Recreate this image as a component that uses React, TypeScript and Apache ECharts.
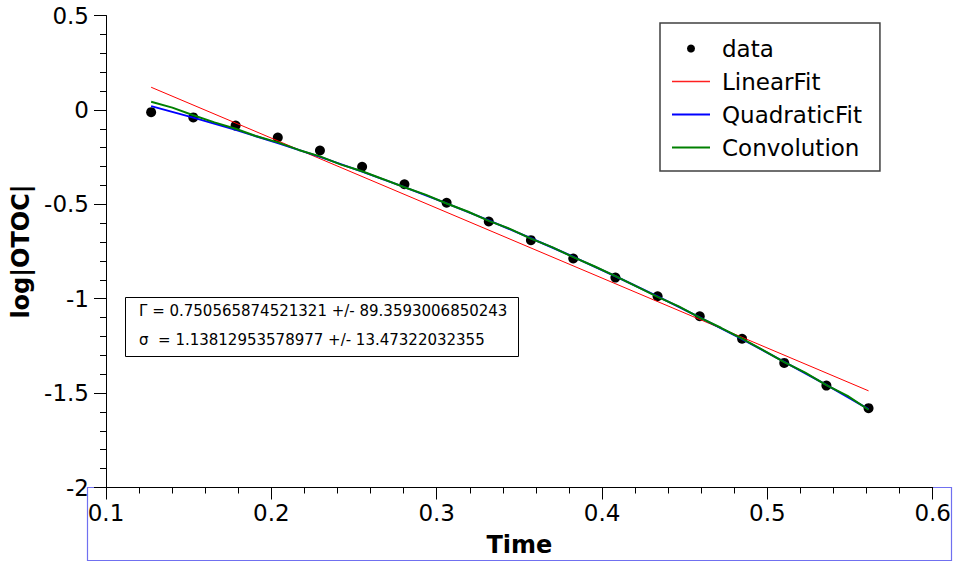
import React, { useEffect, useRef } from "react";
import * as echarts from "echarts";

const dataX = [0.1273, 0.1528, 0.1784, 0.2039, 0.2294, 0.2549, 0.2805, 0.306, 0.3315, 0.357, 0.3826, 0.4081, 0.4336, 0.4591, 0.4847, 0.5102, 0.5357, 0.5612];
const dataY = [-0.012, -0.04, -0.083, -0.146, -0.215, -0.301, -0.394, -0.492, -0.591, -0.69, -0.787, -0.888, -0.987, -1.093, -1.212, -1.34, -1.46, -1.58];

const linearX = [0.1273, 0.5612];
const linearY = [0.12, -1.488];

const quadY = [0.02, -0.041, -0.106, -0.176, -0.249, -0.327, -0.409, -0.495, -0.585, -0.68, -0.778, -0.881, -0.988, -1.099, -1.214, -1.334, -1.457, -1.585];

const convX = [0.1273, 0.1401, 0.1528, 0.1656, 0.1784, 0.1911, 0.2039, 0.2166, 0.2294, 0.2422, 0.2549, 0.2677, 0.2805, 0.2932, 0.306, 0.3187, 0.3315, 0.3443, 0.357, 0.3698, 0.3826, 0.3953, 0.4081, 0.4208, 0.4336, 0.4464, 0.4591, 0.4719, 0.4847, 0.4974, 0.5102, 0.5229, 0.5357, 0.5485, 0.5612];
const convY = [0.043, 0.012, -0.028, -0.066, -0.1, -0.14, -0.172, -0.212, -0.246, -0.29, -0.325, -0.367, -0.41, -0.449, -0.496, -0.538, -0.588, -0.63, -0.682, -0.727, -0.78, -0.828, -0.88, -0.935, -0.99, -1.041, -1.1, -1.154, -1.212, -1.272, -1.336, -1.392, -1.458, -1.515, -1.588];

const seriesNames = ["data", "LinearFit", "QuadraticFit", "Convolution"];
const annotationLines = [
  "Γ = 0.750565874521321 +/- 89.3593006850243",
  "σ  = 1.13812953578977 +/- 13.47322032355",
];

const FONT = "DejaVu Sans";

export default function App() {
  const ref = useRef<HTMLDivElement>(null);
  useEffect(() => {
    if (!ref.current) return;
    const chart = echarts.init(ref.current, undefined, { renderer: "svg" });
    const zip = (xs: number[], ys: number[]) => xs.map((x, i) => [x, ys[i]]);
    chart.setOption({
      animation: false,
      backgroundColor: "#ffffff",
      grid: { left: 106, right: 19, top: 15.5, bottom: 75.5 },
      xAxis: {
        type: "value",
        min: 0.1,
        max: 0.6,
        interval: 0.1,
        name: "Time",
        nameLocation: "middle",
        nameGap: 45,
        nameTextStyle: { fontFamily: FONT, fontSize: 24, fontWeight: "bold", color: "#000" },
        axisLine: { show: true, onZero: false, lineStyle: { color: "#000", width: 1 } },
        axisTick: { show: true, inside: false, length: 12, lineStyle: { color: "#000" } },
        minorTick: { show: true, splitNumber: 5, length: 6, lineStyle: { color: "#000" } },
        axisLabel: { fontFamily: FONT, fontSize: 23, color: "#000", margin: 14 },
        splitLine: { show: false },
        minorSplitLine: { show: false },
      },
      yAxis: {
        type: "value",
        min: -2,
        max: 0.5,
        interval: 0.5,
        name: "log|OTOC|",
        nameLocation: "middle",
        nameGap: 66,
        nameTextStyle: { fontFamily: FONT, fontSize: 24, fontWeight: "bold", color: "#000" },
        axisLine: { show: true, onZero: false, lineStyle: { color: "#000", width: 1 } },
        axisTick: { show: true, inside: false, length: 12, lineStyle: { color: "#000" } },
        minorTick: { show: true, splitNumber: 5, length: 6, lineStyle: { color: "#000" } },
        axisLabel: { fontFamily: FONT, fontSize: 23, color: "#000", margin: 17 },
        splitLine: { show: false },
        minorSplitLine: { show: false },
      },
      legend: {
        show: true,
        orient: "vertical",
        left: 660,
        top: 23,
        data: [
          { name: seriesNames[0], icon: "circle", itemStyle: { color: "#000", opacity: 1 } },
          { name: seriesNames[1], icon: "path://M0 0H38V1.5H0Z", itemStyle: { color: "#ff2020" } },
          { name: seriesNames[2], icon: "path://M0 0H38V2.2H0Z", itemStyle: { color: "#0000ff" } },
          { name: seriesNames[3], icon: "path://M0 0H38V2.2H0Z", itemStyle: { color: "#008000" } },
        ],
        itemWidth: 38,
        itemHeight: 8,
        itemGap: 6,
        padding: [12, 18, 10, 12],
        borderColor: "#404040",
        borderWidth: 1.5,
        textStyle: { fontFamily: FONT, fontSize: 23, color: "#000", lineHeight: 27, padding: [0, 0, 0, 7] },
      },
      graphic: [
        {
          type: "rect",
          shape: { x: 87.5, y: 487.5, width: 864, height: 73 },
          style: { fill: "none", stroke: "#7070f0", lineWidth: 1.2 },
          z: -1,
        },
        {
          type: "rect",
          shape: { x: 125.5, y: 297.5, width: 393, height: 59 },
          style: { fill: "#fff", stroke: "#000", lineWidth: 1 },
          z: 10,
        },
        {
          type: "text",
          x: 139,
          y: 311,
          style: { text: annotationLines[0], font: `15px '${FONT}'`, fill: "#000", verticalAlign: "middle" },
          z: 11,
        },
        {
          type: "text",
          x: 139,
          y: 340,
          style: { text: annotationLines[1], font: `15px '${FONT}'`, fill: "#000", verticalAlign: "middle" },
          z: 11,
        },
      ],
      series: [
        {
          name: seriesNames[0],
          type: "scatter",
          data: zip(dataX, dataY),
          symbol: "circle",
          symbolSize: 10,
          itemStyle: { color: "#000", opacity: 1 },
        },
        {
          name: seriesNames[1],
          type: "line",
          data: zip(linearX, linearY),
          symbol: "none",
          lineStyle: { color: "#ff0000", width: 1 },
          itemStyle: { color: "#ff0000" },
        },
        {
          name: seriesNames[2],
          type: "line",
          data: zip(dataX, quadY),
          symbol: "none",
          lineStyle: { color: "#0000ff", width: 2 },
          itemStyle: { color: "#0000ff" },
        },
        {
          name: seriesNames[3],
          type: "line",
          data: zip(convX, convY),
          symbol: "none",
          lineStyle: { color: "#008000", width: 2 },
          itemStyle: { color: "#008000" },
        },
      ],
    });
    return () => chart.dispose();
  }, []);
  return <div ref={ref} style={{ position: "absolute", left: 0, top: 0, width: 954, height: 563 }} />;
}
